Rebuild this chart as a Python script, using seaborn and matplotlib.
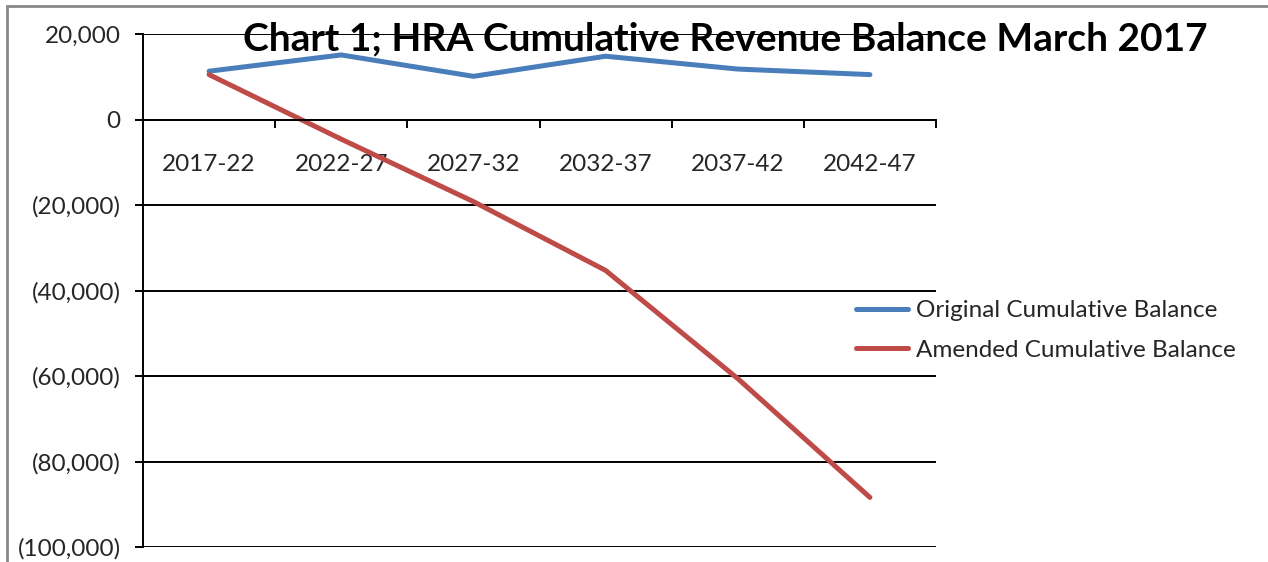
import matplotlib
matplotlib.use("Agg")
import matplotlib.pyplot as plt
import matplotlib.ticker as mticker
from matplotlib.patches import Rectangle
import seaborn as sns
import pandas as pd
import numpy as np

periods = ["2017-22", "2022-27", "2027-32", "2032-37", "2037-42", "2042-47"]
original = [11300, 15100, 10100, 14800, 11800, 10500]
amended = [10500, -4600, -19200, -35300, -60600, -88400]
series_names = ["Original Cumulative Balance", "Amended Cumulative Balance"]
title = "Chart 1; HRA Cumulative Revenue Balance March 2017"

sns.set_style("white")
plt.rcParams["font.family"] = ["Lato", "DejaVu Sans"]

df = pd.DataFrame({
    "period": periods * 2,
    "value": original + amended,
    "series": [series_names[0]] * len(periods) + [series_names[1]] * len(periods),
})

fig = plt.figure(figsize=(12.68, 5.62), dpi=100)
ax = fig.add_axes([143 / 1268, 1 - 547 / 562, (936 - 143) / 1268, (547 - 34) / 562])

sns.lineplot(data=df, x="period", y="value", hue="series", sort=False,
             palette=["#4A7EBB", "#BE4B48"], linewidth=3.6, ax=ax, legend=True)

ax.set_xlim(-0.5, len(periods) - 0.5)
ax.set_ylim(-100000, 20000)
ax.set_xlabel("")
ax.set_ylabel("")

# y axis
ax.yaxis.set_major_locator(mticker.MultipleLocator(20000))
def fmt(v, pos):
    v = int(round(v))
    if v < 0:
        return "({:,})".format(-v)
    return "{:,}".format(v)
ax.yaxis.set_major_formatter(mticker.FuncFormatter(fmt))
ax.tick_params(axis="y", direction="out", length=6, width=1.4, color="black",
               labelsize=17.5, pad=10, left=True)
ax.grid(axis="y", color="black", linewidth=1.4)
ax.set_axisbelow(True)

# x axis at zero
for s in ["top", "right"]:
    ax.spines[s].set_visible(False)
ax.spines["left"].set_color("black")
ax.spines["left"].set_linewidth(1.4)
ax.spines["bottom"].set_position(("data", 0))
ax.spines["bottom"].set_color("black")
ax.spines["bottom"].set_linewidth(1.4)
ax.xaxis.set_major_locator(mticker.FixedLocator(np.arange(-0.5, len(periods), 1.0)))
ax.xaxis.set_major_formatter(mticker.NullFormatter())
ax.xaxis.set_minor_locator(mticker.FixedLocator(np.arange(len(periods))))
ax.xaxis.set_minor_formatter(mticker.FixedFormatter(periods))
ax.tick_params(axis="x", which="major", direction="out", length=6, width=1.4,
               color="black", bottom=True)
ax.tick_params(axis="x", which="minor", length=0, labelsize=17.5, pad=25)

leg = ax.legend(loc="upper left", bbox_to_anchor=(856 / 1268, 1 - 300 / 562),
                bbox_transform=fig.transFigure, frameon=False, fontsize=17.5,
                handlelength=2.15, handletextpad=0.33, labelspacing=0.78,
                borderaxespad=0, borderpad=0)
for line in leg.get_lines():
    line.set_linewidth(3.6)

fig.text(725 / 1268, 1 - 50 / 562, title, ha="center", va="baseline",
         fontsize=28, fontweight="bold", color="black")

fig.patches.append(Rectangle((7 / 1268, -0.1), 1.2, 1 - 6 / 562 + 0.1,
                             transform=fig.transFigure, fill=False,
                             edgecolor="#888888", linewidth=2, zorder=-1))

fig.savefig("out.png", dpi=100)
